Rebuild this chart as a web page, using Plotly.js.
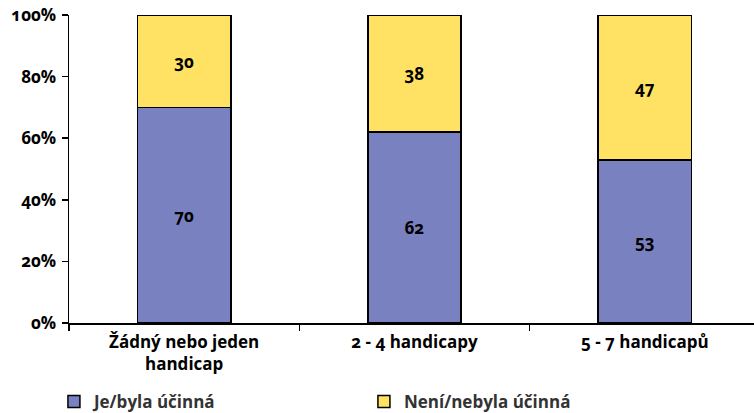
<!DOCTYPE html>
<html>
<head>
<meta charset="utf-8">
<script src="https://cdn.plot.ly/plotly-3.0.1.min.js"></script>
<style>
html,body{margin:0;padding:0;background:#fff;}
#chart{width:754px;height:413px;}
.main-svg text{font-feature-settings:"onum" 1;}
</style>
</head>
<body>
<div id="chart"></div>
<script>
var categories = ["Žádný nebo jeden<br>handicap", "2 - 4 handicapy", "5 - 7 handicapů"];
var seriesNames = ["Je/byla účinná", "Není/nebyla účinná"];
var effective = [70, 62, 53];
var notEffective = [30, 38, 47];
var yTickVals = [0, 20, 40, 60, 80, 100];
var yTickText = ["0%", "20%", "40%", "60%", "80%", "100%"];

var fontFam = "'Open Sans', 'DejaVu Sans', sans-serif";
var barLine = {color: "#000", width: 1.5};

var traces = [
  {
    type: "bar", name: seriesNames[0], x: categories, y: effective,
    text: effective.map(String), textposition: "inside", insidetextanchor: "middle",
    textfont: {family: fontFam, size: 17, color: "#000", weight: 700},
    marker: {color: "#7a81c0", line: barLine}, width: 0.405, hoverinfo: "none"
  },
  {
    type: "bar", name: seriesNames[1], x: categories, y: notEffective,
    text: notEffective.map(String), textposition: "inside", insidetextanchor: "middle",
    textfont: {family: fontFam, size: 17, color: "#000", weight: 700},
    marker: {color: "#ffe264", line: barLine}, width: 0.405, hoverinfo: "none"
  }
];

var layout = {
  width: 754, height: 413,
  margin: {l: 69, r: 0, t: 15, b: 90, pad: 0, autoexpand: false},
  barmode: "stack",
  paper_bgcolor: "#fff", plot_bgcolor: "#fff",
  font: {family: fontFam, size: 17, color: "#000", weight: 700},
  showlegend: true,
  legend: {
    orientation: "h", x: -0.022, xanchor: "left", y: -0.198, yanchor: "top",
    font: {family: fontFam, size: 17, color: "#333", weight: 700},
    entrywidth: 265, entrywidthmode: "pixels", traceorder: "normal",
    itemclick: false, itemdoubleclick: false
  },
  xaxis: {
    type: "category", range: [-0.5, 2.474],
    showline: true, linecolor: "#000", linewidth: 1.5,
    ticks: "outside", tickson: "boundaries", ticklen: 6, tickwidth: 1.5, tickcolor: "#000",
    ticklabelstandoff: 3,
    showgrid: false, zeroline: false, fixedrange: true, automargin: false,
    tickfont: {family: fontFam, size: 17, color: "#000", weight: 700}
  },
  yaxis: {
    range: [0, 100], tickvals: yTickVals, ticktext: yTickText,
    showline: true, linecolor: "#000", linewidth: 1.5,
    ticks: "outside", ticklen: 6, tickwidth: 1.5, tickcolor: "#000",
    ticklabelstandoff: 2,
    showgrid: false, zeroline: false, fixedrange: true, automargin: false,
    tickfont: {family: fontFam, size: 17, color: "#000", weight: 700}
  }
};

Plotly.newPlot("chart", traces, layout, {displayModeBar: false, staticPlot: true});
</script>
</body>
</html>
